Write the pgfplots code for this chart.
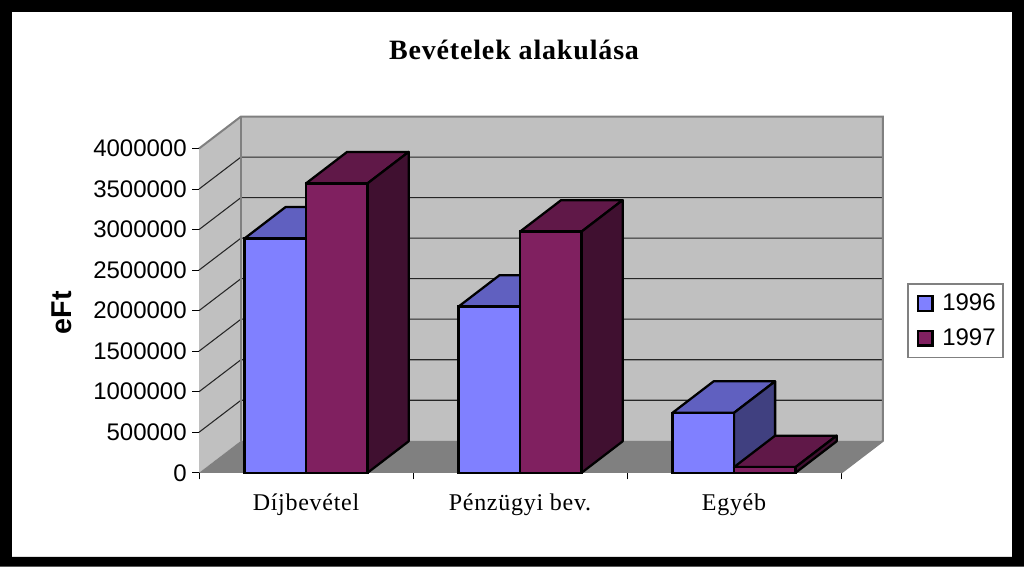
\documentclass[border=0pt]{standalone}
\usepackage{fontspec}
\setmainfont{Liberation Sans}
\newfontfamily\timesl[LetterSpace=3]{Liberation Serif}
\usepackage{pgfplots}
\pgfplotsset{compat=1.18}
\definecolor{wall}{HTML}{C0C0C0}
\definecolor{edge}{HTML}{808080}
\definecolor{floorc}{HTML}{808080}
\definecolor{af}{HTML}{8080FF}
\definecolor{at}{HTML}{6060C0}
\definecolor{as}{HTML}{404080}
\definecolor{bf}{HTML}{802060}
\definecolor{bt}{HTML}{601848}
\definecolor{bs}{HTML}{401030}
\pgfplotsset{
  face/.style={draw=black,line width=1.7pt,line join=round,forget plot,mark=none},
  gridl/.style={draw=black!85,line width=0.8pt,forget plot,mark=none},
  edgel/.style={draw=edge,line width=1.5pt,forget plot,mark=none},
  swatch/.style={legend image code/.code={\path (0pt,0pt); \draw[#1,draw=black,line width=1.7pt] (3pt,-5.5pt) rectangle (14pt,5.5pt);}},
}
\begin{document}
\begin{tikzpicture}
\begin{axis}[
  scale only axis,width=481.5pt,height=243.2pt,
  xmin=0,xmax=3,ymin=0,ymax=4000000,clip=false,
  axis x line*=bottom,axis y line*=left,
  axis line style={draw=black!80,line width=0.7pt,-},
  tick align=outside,tick style={draw=black,line width=0.6pt},
  xtick={0.5,1.5,2.5},xticklabels={D\'ijbev\'etel,P\'enz\"ugyi bev.,Egy\'eb},
  minor xtick={0,1,2,3},major x tick style={draw=none},
  minor tick length=5pt,
  x tick label style={font=\timesl\fontsize{18}{20}\selectfont,yshift=-7pt},
  ytick={0,500000,1000000,1500000,2000000,2500000,3000000,3500000,4000000},
  major tick length=5pt,
  scaled y ticks=false,
  y tick label style={font=\fontsize{18}{20}\selectfont,xshift=-0.7pt,/pgf/number format/.cd,fixed,1000 sep={},precision=0,assume math mode=true},
  ylabel={\textbf{eFt}},
  ylabel style={font=\fontsize{21.5}{23}\selectfont,at={(axis cs:-0.643,1975000)},anchor=center},
  legend cell align=left,
  legend style={at={(axis cs:3.535,1875000)},anchor=center,draw=edge,line width=0.8pt,
    font=\fontsize{18}{20}\selectfont,inner xsep=3.5pt,inner ysep=5.5pt,row sep=8pt,
    /tikz/column 1/.style={column sep=4.5pt}},
]
% frame
\fill[black,even odd rule] (axis cs:-0.930,5832000) rectangle (axis cs:3.855,-1159000)
  (axis cs:-0.874,5684000) rectangle (axis cs:3.799,-1036000);
\node[font=\timesl\bfseries\fontsize{21}{23}\selectfont] at (axis cs:1.472,5215000) {Bevételek alakulása};
% walls and floor
\addplot[fill=wall,draw=none,forget plot] coordinates {(0.196,394600)(3.196,394600)(3.196,4394600)(0.196,4394600)} --cycle;
\addplot[fill=wall,draw=none,forget plot] coordinates {(0,0)(0.196,394600)(0.196,4394600)(0,4000000)} --cycle;
\addplot[fill=floorc,draw=none,forget plot] coordinates {(0,0)(3,0)(3.196,394600)(0.196,394600)} --cycle;
% grid on the back wall
\addplot[gridl] coordinates {(0,500000)(0.196,894600)(3.196,894600)};
\addplot[gridl] coordinates {(0,1000000)(0.196,1394600)(3.196,1394600)};
\addplot[gridl] coordinates {(0,1500000)(0.196,1894600)(3.196,1894600)};
\addplot[gridl] coordinates {(0,2000000)(0.196,2394600)(3.196,2394600)};
\addplot[gridl] coordinates {(0,2500000)(0.196,2894600)(3.196,2894600)};
\addplot[gridl] coordinates {(0,3000000)(0.196,3394600)(3.196,3394600)};
\addplot[gridl] coordinates {(0,3500000)(0.196,3894600)(3.196,3894600)};
\addplot[edgel] coordinates {(0,4000000)(0.196,4394600)(3.196,4394600)(3.196,394600)(3,0)};
\addplot[edgel] coordinates {(0.196,4394600)(0.196,394600)};
% 1996
\addplot[face,fill=at] coordinates {(0.2125,2890000)(0.5,2890000)(0.692,3278000)(0.4045,3278000)} --cycle;
\addplot[face,fill=as] coordinates {(0.5,0)(0.692,388000)(0.692,3278000)(0.5,2890000)} --cycle;
\addplot[face,fill=at] coordinates {(1.2125,2050000)(1.5,2050000)(1.692,2438000)(1.4045,2438000)} --cycle;
\addplot[face,fill=as] coordinates {(1.5,0)(1.692,388000)(1.692,2438000)(1.5,2050000)} --cycle;
\addplot[face,fill=at] coordinates {(2.2125,740000)(2.5,740000)(2.692,1128000)(2.4045,1128000)} --cycle;
\addplot[face,fill=as] coordinates {(2.5,0)(2.692,388000)(2.692,1128000)(2.5,740000)} --cycle;
\addplot[ybar,bar width=0.2875,bar shift=-0.14375,fill=af,draw=black,line width=1.7pt,swatch]
  coordinates {(0.5,2890000)(1.5,2050000)(2.5,740000)};
\addlegendentry{1996}
% 1997
\addplot[face,fill=bt] coordinates {(0.5,3570000)(0.7875,3570000)(0.9795,3958000)(0.692,3958000)} --cycle;
\addplot[face,fill=bs] coordinates {(0.7875,0)(0.9795,388000)(0.9795,3958000)(0.7875,3570000)} --cycle;
\addplot[face,fill=bt] coordinates {(1.5,2975000)(1.7875,2975000)(1.9795,3363000)(1.692,3363000)} --cycle;
\addplot[face,fill=bs] coordinates {(1.7875,0)(1.9795,388000)(1.9795,3363000)(1.7875,2975000)} --cycle;
\addplot[face,fill=bt] coordinates {(2.5,70000)(2.7875,70000)(2.9795,458000)(2.692,458000)} --cycle;
\addplot[face,fill=bs] coordinates {(2.7875,0)(2.9795,388000)(2.9795,458000)(2.7875,70000)} --cycle;
\addplot[ybar,bar width=0.2875,bar shift=0.14375,fill=bf,draw=black,line width=1.7pt,swatch]
  coordinates {(0.5,3570000)(1.5,2975000)(2.5,70000)};
\addlegendentry{1997}
\end{axis}
\end{tikzpicture}
\end{document}
